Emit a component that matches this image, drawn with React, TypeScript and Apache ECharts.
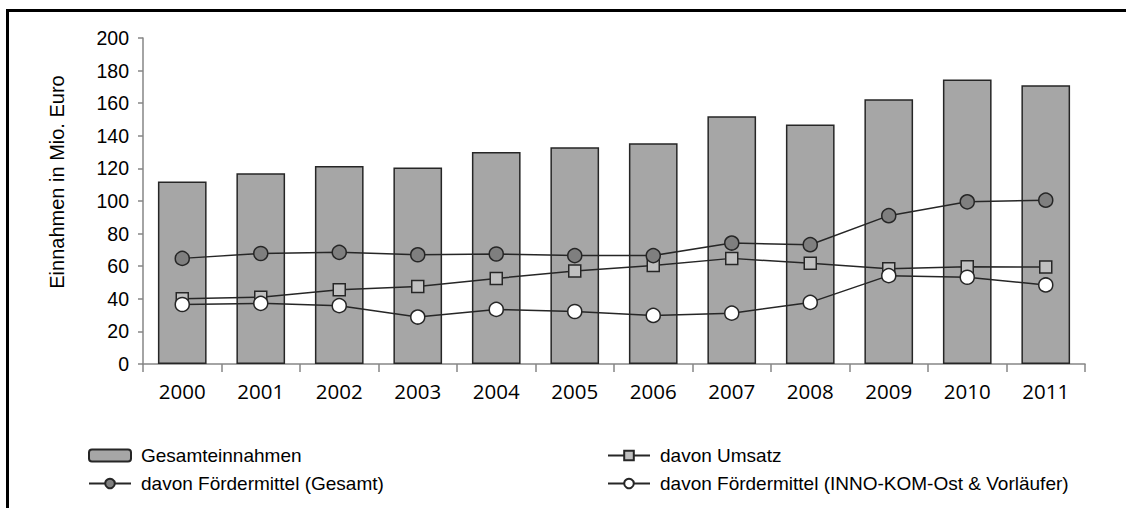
import React, { useEffect, useRef } from "react";
import * as echarts from "echarts";

const years = ["2000", "2001", "2002", "2003", "2004", "2005", "2006", "2007", "2008", "2009", "2010", "2011"];
const gesamteinnahmen = [112, 117, 121.5, 120.5, 130, 133, 135.5, 152, 147, 162.5, 174.5, 171];
const umsatz = [40, 41, 45.5, 47.5, 52.5, 57, 60.5, 64.8, 61.8, 58.5, 59.7, 59.5];
const foerderGesamt = [64.8, 67.8, 68.5, 67, 67.5, 66.5, 66.5, 74.2, 73.2, 91, 99.5, 100.5];
const foerderInno = [36.5, 37.2, 35.8, 28.8, 33.5, 32.2, 29.8, 31.2, 37.8, 54.2, 53.2, 48.5];
const yTicks = { min: 0, max: 200, interval: 20 };

const names = [
  "Gesamteinnahmen",
  "davon Umsatz",
  "davon Fördermittel (Gesamt)",
  "davon Fördermittel (INNO-KOM-Ost & Vorläufer)",
];

export default function App() {
  const ref = useRef<HTMLDivElement>(null);
  useEffect(() => {
    if (!ref.current) return;
    const chart = echarts.init(ref.current, undefined, { renderer: "svg" });
    const lineColor = "#262626";
    const textStyle = { fontFamily: "Liberation Sans, Arial, sans-serif", fontSize: 19, color: "#000" };
    const legendBase = {
      itemWidth: 42,
      itemHeight: 12,
      itemGap: 0,
      textStyle: { ...textStyle, padding: [0, 0, 0, 5] },
      padding: 0,
    };
    chart.setOption({
      animation: false,
      backgroundColor: "#fff",
      grid: { left: 143, top: 38, right: 41, bottom: 144, containLabel: false },
      xAxis: {
        type: "category",
        data: years,
        boundaryGap: true,
        axisLine: { lineStyle: { color: "#868686", width: 1.5 } },
        axisTick: { show: true, length: 8, lineStyle: { color: "#868686", width: 1.5 } },
        axisLabel: { fontFamily: "Open Sans, Liberation Sans, sans-serif", fontSize: 20.5, color: "#000", margin: 16 },
      },
      yAxis: {
        type: "value",
        min: yTicks.min,
        max: yTicks.max,
        interval: yTicks.interval,
        axisLine: { show: true, lineStyle: { color: "#868686", width: 1.5 } },
        axisTick: { show: true, length: 5, lineStyle: { color: "#868686", width: 1.5 } },
        splitLine: { show: false },
        axisLabel: { fontFamily: "Liberation Sans, Arial, sans-serif", fontSize: 19.5, color: "#000", margin: 14 },
      },
      legend: [
        { ...legendBase, left: 88, top: 446, data: [names[0]] },
        { ...legendBase, left: 607, top: 446, data: [names[1]] },
        { ...legendBase, left: 88, top: 474, data: [names[2]] },
        { ...legendBase, left: 607, top: 474, data: [names[3]] },
      ],
      graphic: [
        {
          type: "polyline",
          shape: { points: [[7.5, 520], [7.5, 10.5], [1140, 10.5]] },
          style: { stroke: "#000", lineWidth: 3, fill: "none" },
          silent: true,
        },
        {
          type: "text",
          x: 57,
          y: 182,
          rotation: Math.PI / 2,
          style: {
            text: "Einnahmen in Mio. Euro",
            fontFamily: "Liberation Sans, Arial, sans-serif",
            fontSize: 20,
            fill: "#000",
            align: "center",
            verticalAlign: "middle",
          },
        },
      ],
      series: [
        {
          name: names[0],
          type: "bar",
          data: gesamteinnahmen,
          barCategoryGap: "38%",
          itemStyle: { color: "#a6a6a6", borderColor: lineColor, borderWidth: 1.5 },
          z: 1,
        },
        {
          name: names[1],
          type: "line",
          data: umsatz,
          symbol: "rect",
          symbolSize: 12,
          lineStyle: { color: lineColor, width: 1.5 },
          itemStyle: { color: "#c0c0c0", borderColor: lineColor, borderWidth: 1.5 },
          z: 3,
        },
        {
          name: names[2],
          type: "line",
          data: foerderGesamt,
          symbol: "circle",
          symbolSize: 14,
          lineStyle: { color: lineColor, width: 1.5 },
          itemStyle: { color: "#7f7f7f", borderColor: lineColor, borderWidth: 1.5 },
          z: 4,
        },
        {
          name: names[3],
          type: "line",
          data: foerderInno,
          symbol: "circle",
          symbolSize: 14,
          lineStyle: { color: lineColor, width: 1.5 },
          itemStyle: { color: "#ffffff", borderColor: lineColor, borderWidth: 1.5 },
          z: 5,
        },
      ],
    });
    return () => chart.dispose();
  }, []);
  return (
    <div
      ref={ref}
      style={{ position: "fixed", left: 0, top: 0, width: 1126, height: 508 }}
    />
  );
}
